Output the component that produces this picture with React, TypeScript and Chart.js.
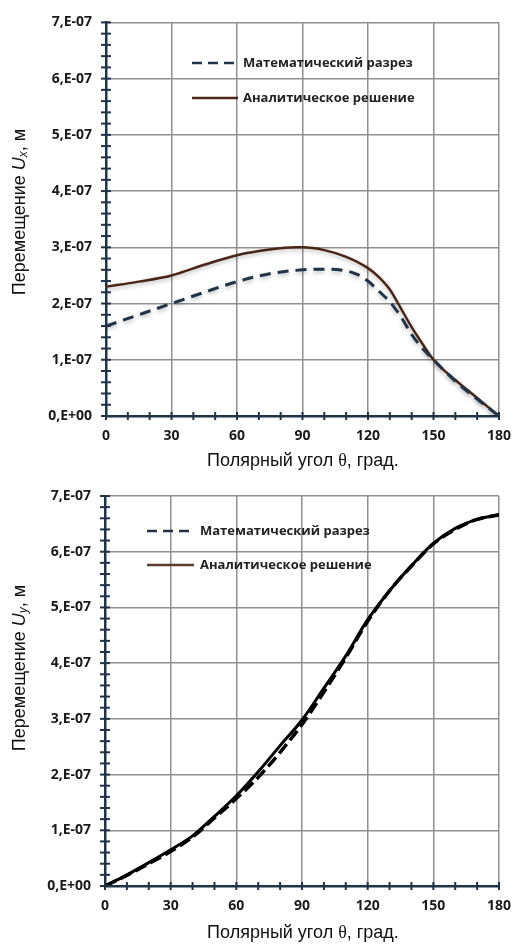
import React, { useEffect, useRef } from 'react';
import { Chart, registerables } from 'chart.js';

Chart.register(...registerables);

// ---------- data ----------
const thetaUxMath = [0, 15, 30, 45, 60, 75, 90, 100, 110, 115, 120, 125, 130, 135, 140, 145, 150, 160, 170, 180];
const uxMath = [1.6e-7, 1.8e-7, 2.0e-7, 2.2e-7, 2.39e-7, 2.53e-7, 2.6e-7, 2.61e-7, 2.58e-7, 2.52e-7, 2.4e-7, 2.22e-7, 2.03e-7, 1.77e-7, 1.45e-7, 1.2e-7, 1.0e-7, 0.62e-7, 0.3e-7, 0];

const thetaUxAnal = [0, 15, 30, 45, 60, 75, 87, 90, 100, 110, 120, 125, 130, 135, 140, 145, 150, 160, 170, 180];
const uxAnal = [2.3e-7, 2.39e-7, 2.5e-7, 2.69e-7, 2.86e-7, 2.96e-7, 3.0e-7, 3.0e-7, 2.95e-7, 2.83e-7, 2.63e-7, 2.47e-7, 2.25e-7, 1.92e-7, 1.58e-7, 1.28e-7, 1.0e-7, 0.64e-7, 0.32e-7, 0];

const thetaUy = [0, 10, 20, 30, 40, 50, 60, 70, 80, 90, 100, 110, 120, 130, 140, 150, 160, 170, 180];
const uyMath = [0, 0.19e-7, 0.4e-7, 0.62e-7, 0.88e-7, 1.22e-7, 1.57e-7, 1.95e-7, 2.4e-7, 2.9e-7, 3.48e-7, 4.1e-7, 4.75e-7, 5.3e-7, 5.74e-7, 6.14e-7, 6.4e-7, 6.58e-7, 6.66e-7];
const uyAnal = [0, 0.2e-7, 0.42e-7, 0.65e-7, 0.9e-7, 1.25e-7, 1.62e-7, 2.05e-7, 2.52e-7, 2.98e-7, 3.55e-7, 4.13e-7, 4.78e-7, 5.3e-7, 5.75e-7, 6.15e-7, 6.42e-7, 6.58e-7, 6.67e-7];

const xTickValues = [0, 30, 60, 90, 120, 150, 180];
const yTickValues = [0, 1e-7, 2e-7, 3e-7, 4e-7, 5e-7, 6e-7, 7e-7];
const yTickLabels = ['0,E+00', '1,E-07', '2,E-07', '3,E-07', '4,E-07', '5,E-07', '6,E-07', '7,E-07'];
const legendLabels = ['Математический разрез', 'Аналитическое решение'];

// ---------- styles ----------
const NAVY = '#1f3447';
const BROWN = '#4b2617';
const GRID = '#8f8f8f';
const TICK_FONT = { family: '"Open Sans", sans-serif', size: 14, weight: 'bold' as const };

function pts(xs: number[], ys: number[]) {
  return xs.map((x, i) => ({ x, y: ys[i] }));
}

type Cfg = {
  height: number;
  area: { left: number; right: number; top: number; bottom: number };
  datasets: any[];
  legend: { x0: number; x1: number; tx: number; y1: number; y2: number; color2: string };
  yTitle: { cx: number; cy: number; sub: string };
  xTitle: { cx: number; cy: number };
  shadow: boolean;
};

function makeChart(canvas: HTMLCanvasElement, cfg: Cfg) {
  const { area } = cfg;
  const minorTicks = {
    id: 'minorTicks',
    afterDraw(chart: any) {
      const ctx = chart.ctx;
      const xs = chart.scales.x;
      const ys = chart.scales.y;
      ctx.save();
      ctx.strokeStyle = NAVY;
      ctx.lineWidth = 2;
      const yb = ys.getPixelForValue(0);
      for (let v = 0; v <= 180; v += 10) {
        const px = xs.getPixelForValue(v);
        ctx.beginPath();
        ctx.moveTo(px, yb - 4);
        ctx.lineTo(px, yb + 4);
        ctx.stroke();
      }
      const xl = xs.getPixelForValue(0);
      for (let k = 0; k <= 35; k++) {
        const py = ys.getPixelForValue(k * 0.2e-7);
        ctx.beginPath();
        ctx.moveTo(xl - 5, py);
        ctx.lineTo(xl + 5, py);
        ctx.stroke();
      }
      ctx.restore();
    },
  };
  const shadowPlugin = {
    id: 'shadow',
    beforeDatasetDraw(chart: any) {
      if (!cfg.shadow) return;
      const ctx = chart.ctx;
      ctx.shadowColor = 'rgba(0,0,0,0.28)';
      ctx.shadowBlur = 4;
      ctx.shadowOffsetY = 2;
    },
    afterDatasetDraw(chart: any) {
      const ctx = chart.ctx;
      ctx.shadowColor = 'rgba(0,0,0,0)';
      ctx.shadowBlur = 0;
      ctx.shadowOffsetY = 0;
    },
  };
  const legendPlugin = {
    id: 'customLegend',
    afterDraw(chart: any) {
      const ctx = chart.ctx;
      const L = cfg.legend;
      ctx.save();
      ctx.lineCap = 'butt';
      ctx.strokeStyle = NAVY;
      ctx.lineWidth = 2.5;
      ctx.setLineDash([10, 6]);
      ctx.beginPath();
      ctx.moveTo(L.x0, L.y1);
      ctx.lineTo(L.x1, L.y1);
      ctx.stroke();
      ctx.setLineDash([]);
      ctx.strokeStyle = L.color2;
      ctx.lineWidth = 2.5;
      ctx.beginPath();
      ctx.moveTo(L.x0, L.y2);
      ctx.lineTo(L.x1, L.y2);
      ctx.stroke();
      ctx.fillStyle = '#222';
      ctx.font = 'bold 13px "Open Sans", sans-serif';
      ctx.textBaseline = 'middle';
      ctx.textAlign = 'left';
      ctx.fillText(legendLabels[0], L.tx, L.y1);
      ctx.fillText(legendLabels[1], L.tx, L.y2);
      ctx.restore();
    },
  };
  const titlePlugin = {
    id: 'axisTitles',
    afterDraw(chart: any) {
      const ctx = chart.ctx;
      ctx.save();
      ctx.fillStyle = '#111';
      ctx.textBaseline = 'middle';
      ctx.textAlign = 'left';
      const segs = [
        { t: 'Перемещение ', f: '18px "Liberation Sans", Arial, sans-serif', dy: 0 },
        { t: 'U', f: 'italic 18px "Liberation Sans", Arial, sans-serif', dy: 0 },
        { t: cfg.yTitle.sub, f: 'italic 12px "Liberation Sans", Arial, sans-serif', dy: 4 },
        { t: ', м', f: '18px "Liberation Sans", Arial, sans-serif', dy: 0 },
      ];
      let total = 0;
      for (const s of segs) {
        ctx.font = s.f;
        total += ctx.measureText(s.t).width;
      }
      ctx.translate(cfg.yTitle.cx, cfg.yTitle.cy);
      ctx.rotate(-Math.PI / 2);
      let x = -total / 2;
      for (const s of segs) {
        ctx.font = s.f;
        ctx.fillText(s.t, x, s.dy);
        x += ctx.measureText(s.t).width;
      }
      ctx.setTransform(1, 0, 0, 1, 0, 0);
      const xs = [
        { t: 'Полярный угол ', f: '18px "Liberation Sans", Arial, sans-serif' },
        { t: 'θ', f: '18px "Liberation Serif", "Times New Roman", serif' },
        { t: ', град.', f: '18px "Liberation Sans", Arial, sans-serif' },
      ];
      total = 0;
      for (const s of xs) {
        ctx.font = s.f;
        total += ctx.measureText(s.t).width;
      }
      x = cfg.xTitle.cx - total / 2;
      for (const s of xs) {
        ctx.font = s.f;
        ctx.fillText(s.t, x, cfg.xTitle.cy);
        x += ctx.measureText(s.t).width;
      }
      ctx.restore();
    },
  };

  return new Chart(canvas, {
    type: 'line',
    data: { datasets: cfg.datasets },
    options: {
      responsive: false,
      animation: false,
      layout: { padding: { top: area.top, right: 523 - area.right, left: 0, bottom: 0 } },
      plugins: { legend: { display: false }, tooltip: { enabled: false } },
      scales: {
        x: {
          type: 'linear',
          min: 0,
          max: 180,
          afterBuildTicks: (s: any) => {
            s.ticks = xTickValues.map((v) => ({ value: v }));
          },
          afterFit: (s: any) => {
            s.height = cfg.height - area.bottom;
          },
          ticks: { font: TICK_FONT, color: '#1a1a1a', padding: 12, maxRotation: 0, autoSkip: false },
          grid: { color: GRID, lineWidth: 1.5, drawTicks: false },
          border: { color: NAVY, width: 2.5 },
        },
        y: {
          type: 'linear',
          min: 0,
          max: 7e-7,
          afterBuildTicks: (s: any) => {
            s.ticks = yTickValues.map((v) => ({ value: v }));
          },
          afterFit: (s: any) => {
            s.width = area.left;
          },
          ticks: {
            font: TICK_FONT,
            color: '#1a1a1a',
            padding: 14,
            autoSkip: false,
            callback: (_v: any, i: number) => yTickLabels[i],
          },
          grid: { color: GRID, lineWidth: 1.5, drawTicks: false },
          border: { color: NAVY, width: 2.5 },
        },
      },
    } as any,
    plugins: [shadowPlugin, minorTicks, legendPlugin, titlePlugin],
  });
}

function ChartCanvas({ cfg, top }: { cfg: Cfg; top: number }) {
  const ref = useRef<HTMLCanvasElement>(null);
  useEffect(() => {
    if (!ref.current) return;
    const ch = makeChart(ref.current, cfg);
    return () => ch.destroy();
  }, []);
  return (
    <canvas
      ref={ref}
      width={523}
      height={cfg.height}
      style={{ position: 'absolute', left: 0, top, width: 523, height: cfg.height, display: 'block' }}
    />
  );
}

const topCfg: Cfg = {
  height: 470,
  area: { left: 106, right: 507, top: 19, bottom: 416 },
  datasets: [
    {
      label: legendLabels[0],
      data: pts(thetaUxMath, uxMath),
      borderColor: NAVY,
      borderWidth: 3,
      borderDash: [11, 7],
      pointRadius: 0,
      cubicInterpolationMode: 'monotone',
      fill: false,
    },
    {
      label: legendLabels[1],
      data: pts(thetaUxAnal, uxAnal),
      borderColor: BROWN,
      borderWidth: 2.5,
      pointRadius: 0,
      cubicInterpolationMode: 'monotone',
      fill: false,
    },
  ],
  legend: { x0: 192, x1: 238, tx: 243, y1: 63, y2: 98, color2: BROWN },
  yTitle: { cx: 20, cy: 212, sub: 'x' },
  xTitle: { cx: 303, cy: 461 },
  shadow: true,
};

const bottomCfg: Cfg = {
  height: 474,
  area: { left: 105, right: 511, top: 26, bottom: 416 },
  datasets: [
    {
      label: legendLabels[0],
      data: pts(thetaUy, uyMath),
      borderColor: '#000',
      borderWidth: 3.5,
      borderDash: [12, 5],
      pointRadius: 0,
      cubicInterpolationMode: 'monotone',
      fill: false,
    },
    {
      label: legendLabels[1],
      data: pts(thetaUy, uyAnal),
      borderColor: '#000',
      borderWidth: 3,
      pointRadius: 0,
      cubicInterpolationMode: 'monotone',
      fill: false,
    },
  ],
  legend: { x0: 147, x1: 194, tx: 200, y1: 61, y2: 95, color2: '#5a3a2a' },
  yTitle: { cx: 20, cy: 198, sub: 'y' },
  xTitle: { cx: 303, cy: 463 },
  shadow: false,
};

export default function App() {
  return (
    <div style={{ position: 'absolute', left: 0, top: 0, width: 523, height: 944, background: '#fff' }}>
      <ChartCanvas cfg={topCfg} top={0} />
      <ChartCanvas cfg={bottomCfg} top={470} />
    </div>
  );
}
